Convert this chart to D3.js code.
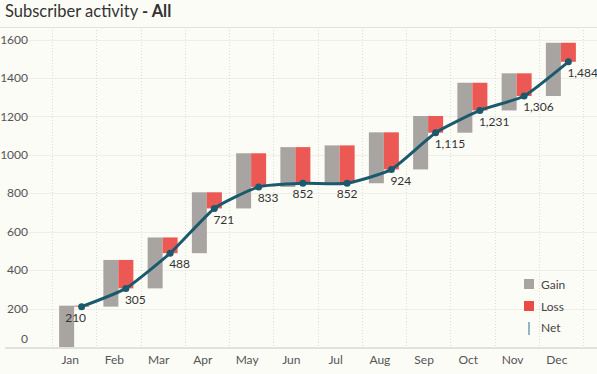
<!DOCTYPE html>
<html>
<head>
<meta charset="utf-8">
<script src="https://cdn.jsdelivr.net/npm/d3@7"></script>
<style>
  body { margin: 0; background: #fcfcf7; }
  svg { display: block; font-family: Lato, "Open Sans", sans-serif; }
</style>
</head>
<body>
<div id="chart"></div>
<script>
// data
const months = ["Jan", "Feb", "Mar", "Apr", "May", "Jun", "Jul", "Aug", "Sep", "Oct", "Nov", "Dec"];
const gain = [215, 243, 265, 317, 287, 207, 197, 265, 278, 260, 193, 277];
const loss = [5, 148, 82, 84, 175, 188, 197, 193, 87, 144, 118, 99];
const yTicks = [0, 200, 400, 600, 800, 1000, 1200, 1400, 1600];

const width = 597, height = 374;

// running totals
let run = 0;
const rows = months.map((m, i) => {
  const start = run;
  const top = start + gain[i];
  run = top - loss[i];
  return { month: m, start, top, net: run };
});

const svg = d3.select("#chart").append("svg")
  .attr("width", width)
  .attr("height", height);

svg.append("rect").attr("width", width).attr("height", height).attr("fill", "#fcfcf7");

// title
const title = svg.append("text")
  .attr("x", 5).attr("y", 17)
  .style("font-size", "16.5px")
  .style("fill", "#333");
title.append("tspan").text("Subscriber activity ");
title.append("tspan").style("font-weight", "bold").text("- All");

svg.append("line")
  .attr("x1", 0).attr("x2", width)
  .attr("y1", 27.5).attr("y2", 27.5)
  .attr("stroke", "#e2e2de");

const x = d3.scaleBand().domain(months).range([52, 583]);
const y = d3.scaleLinear().domain([0, 1600]).range([347, 39.5]);
const bw = 15;

// gridlines
svg.append("g")
  .selectAll("line")
  .data(yTicks.filter(d => d > 0))
  .join("line")
  .attr("x1", 5).attr("x2", width)
  .attr("y1", d => Math.round(y(d)) + 0.5)
  .attr("y2", d => Math.round(y(d)) + 0.5)
  .attr("stroke", "#efefea");

svg.append("g")
  .selectAll("line")
  .data(months.concat(["end"]))
  .join("line")
  .attr("x1", (d, i) => Math.round(52 + i * x.bandwidth()) + 0.5)
  .attr("x2", (d, i) => Math.round(52 + i * x.bandwidth()) + 0.5)
  .attr("y1", 30).attr("y2", 347)
  .attr("stroke", "#dcdcd6")
  .attr("stroke-dasharray", "1,2");

// baseline
svg.append("line")
  .attr("x1", 5).attr("x2", width)
  .attr("y1", 348).attr("y2", 348)
  .attr("stroke", "#d8d8d4").attr("stroke-width", 1.5);

// y labels
svg.append("g")
  .selectAll("text")
  .data(yTicks)
  .join("text")
  .attr("x", 28)
  .attr("y", d => d === 0 ? 339 : y(d))
  .attr("dy", "0.35em")
  .attr("text-anchor", "end")
  .style("font-size", "12px")
  .style("fill", "#555")
  .text(d => d);

// x labels
svg.append("g")
  .selectAll("text")
  .data(months)
  .join("text")
  .attr("x", d => x(d) + x.bandwidth() / 2 - 4)
  .attr("y", 360)
  .attr("dy", "0.35em")
  .attr("text-anchor", "middle")
  .style("font-size", "12px")
  .style("fill", "#555")
  .text(d => d);

const cx = d => x(d.month) + x.bandwidth() / 2;

// gain bars
svg.append("g")
  .selectAll("rect")
  .data(rows)
  .join("rect")
  .attr("x", d => cx(d) - bw)
  .attr("y", d => y(d.top))
  .attr("width", bw)
  .attr("height", d => y(d.start) - y(d.top))
  .attr("fill", "#a8a4a2");

// loss bars
svg.append("g")
  .selectAll("rect")
  .data(rows)
  .join("rect")
  .attr("x", d => cx(d))
  .attr("y", d => y(d.top))
  .attr("width", bw)
  .attr("height", d => y(d.net) - y(d.top))
  .attr("fill", "#ec5853");

// net line
const line = d3.line()
  .x(d => cx(d) + bw / 2)
  .y(d => y(d.net))
  .curve(d3.curveCardinal.tension(0.5));

svg.append("path")
  .datum(rows)
  .attr("d", line)
  .attr("fill", "none")
  .attr("stroke", "#1b5a6d")
  .attr("stroke-width", 3);

svg.append("g")
  .selectAll("circle")
  .data(rows)
  .join("circle")
  .attr("cx", d => cx(d) + bw / 2)
  .attr("cy", d => y(d.net))
  .attr("r", 3.5)
  .attr("fill", "#1b5a6d");

// net labels
const centred = ["Jun", "Jul"];
svg.append("g")
  .selectAll("text")
  .data(rows)
  .join("text")
  .attr("x", d => {
    const px = cx(d) + bw / 2;
    if (d.month === "Jan") return px - 6;
    if (centred.includes(d.month)) return px;
    return px - 1;
  })
  .attr("y", d => y(d.net) + 11)
  .attr("dy", "0.35em")
  .attr("text-anchor", d => (d.month === "Jan" || centred.includes(d.month)) ? "middle" : "start")
  .style("font-size", "12px")
  .style("fill", "#333")
  .text(d => d3.format(",")(d.net));

// legend
const legend = svg.append("g").attr("transform", "translate(524,0)");
legend.append("rect").attr("x", 0).attr("y", 279).attr("width", 10).attr("height", 10).attr("fill", "#a8a4a2");
legend.append("rect").attr("x", 0).attr("y", 301).attr("width", 10).attr("height", 10).attr("fill", "#ec4a45");
legend.append("line").attr("x1", 5).attr("x2", 5).attr("y1", 322).attr("y2", 335)
  .attr("stroke", "#6f9cb4").attr("stroke-width", 1.5);
legend.selectAll("text")
  .data(["Gain", "Loss", "Net"])
  .join("text")
  .attr("x", 17)
  .attr("y", (d, i) => 285 + i * 21.5)
  .attr("dy", "0.35em")
  .style("font-size", "12px")
  .style("fill", "#444")
  .text(d => d);
</script>
</body>
</html>
